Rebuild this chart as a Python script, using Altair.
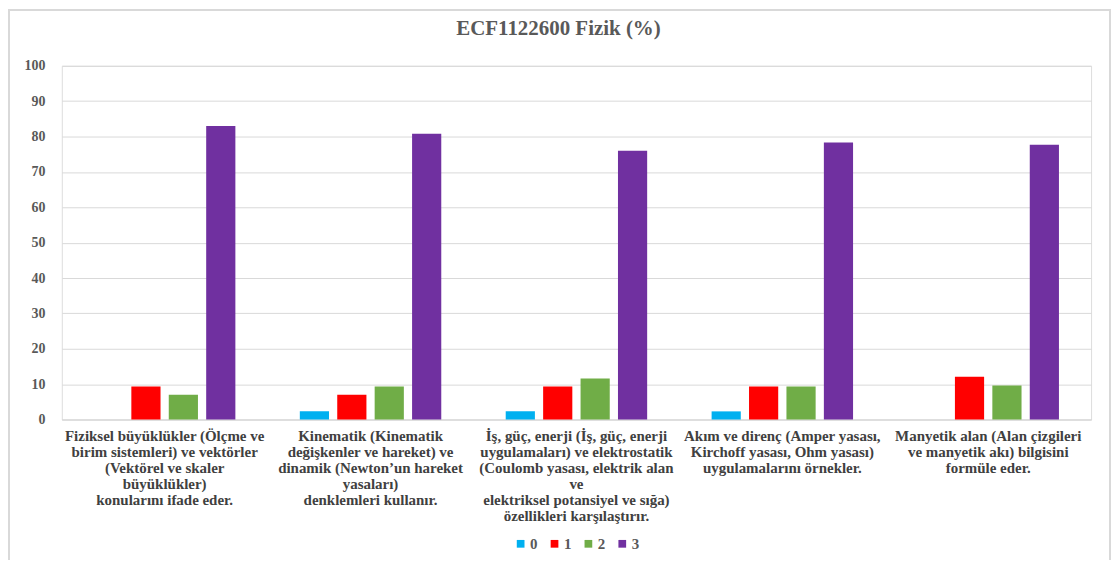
import altair as alt
import pandas as pd

categories = [
    "Fiziksel büyüklükler (Ölçme ve|birim sistemleri) ve vektörler|(Vektörel ve skaler|büyüklükler)|konularını ifade eder.",
    "Kinematik (Kinematik|değişkenler ve hareket) ve|dinamik (Newton’un hareket|yasaları)|denklemleri kullanır.",
    "İş, güç, enerji (İş, güç, enerji|uygulamaları) ve elektrostatik|(Coulomb yasası, elektrik alan|ve|elektriksel potansiyel ve sığa)|özellikleri karşılaştırır.",
    "Akım ve direnç (Amper yasası,|Kirchoff yasası, Ohm yasası)|uygulamalarını örnekler.",
    "Manyetik alan (Alan çizgileri|ve manyetik akı) bilgisini|formüle eder.",
]
series = ["0", "1", "2", "3"]
s0 = [0, 2.3, 2.3, 2.3, 0]
s1 = [9.3, 7.0, 9.3, 9.3, 12.1]
s2 = [7.0, 9.3, 11.6, 9.3, 9.6]
s3 = [83.0, 80.8, 76.0, 78.3, 77.7]
colors = ["#00B0F0", "#FF0000", "#70AD47", "#7030A0"]

rows = []
for i, c in enumerate(categories):
    for s, vals in zip(series, [s0, s1, s2, s3]):
        rows.append({"cat": c, "series": s, "value": vals[i]})
df = pd.DataFrame(rows)

FONT = "Liberation Serif"
GRAY = "#595959"

bars = alt.Chart(df).mark_bar().encode(
    x=alt.X("cat:N", sort=categories, title=None,
            scale=alt.Scale(paddingInner=0.313, paddingOuter=0.156),
            axis=alt.Axis(labelAngle=0, labelExpr="split(datum.value, '|')",
                          labelFont=FONT, labelFontSize=15, labelFontWeight="bold",
                          labelColor="#404040", labelLineHeight=16, labelPadding=9,
                          ticks=False, domain=True, domainColor="#D9D9D9",
                          labelLimit=250, labelBaseline="top")),
    xOffset=alt.XOffset("series:N", sort=series,
                        scale=alt.Scale(paddingInner=0.22, paddingOuter=0)),
    y=alt.Y("value:Q", title=None,
            scale=alt.Scale(domain=[0, 100]),
            axis=alt.Axis(values=list(range(0, 101, 10)), labelFont=FONT,
                          labelFontSize=14, labelFontWeight="bold", labelColor=GRAY,
                          ticks=False, domain=False, gridColor="#D9D9D9",
                          labelPadding=17)),
    color=alt.Color("series:N", sort=series,
                    scale=alt.Scale(domain=series, range=colors),
                    legend=alt.Legend(title=None, orient="none", direction="horizontal",
                                      legendX=453, legendY=472,
                                      symbolType="square", symbolSize=60,
                                      symbolStrokeWidth=0,
                                      labelFont=FONT, labelFontSize=15,
                                      labelFontWeight="bold", labelColor=GRAY,
                                      columnPadding=9, labelOffset=2)),
)

border = alt.Chart(pd.DataFrame({"k": [0]})).mark_rect(
    fill=None, stroke="#D9D9D9", strokeWidth=2
).encode(
    x=alt.value(-53), x2=alt.value(1052), y=alt.value(-56), y2=alt.value(510)
)

chart = alt.layer(border, bars).properties(
    width=1033, height=355,
    title=alt.TitleParams("ECF1122600 Fizik (%)", font=FONT, fontSize=21,
                          fontWeight="bold", color=GRAY, anchor="middle",
                          dx=-18, offset=0, dy=30),
    autosize="none",
    padding={"left": 54, "top": 57, "right": 20, "bottom": 140},
).configure_view(stroke=None).configure(font=FONT)

chart.save("out.html", embed_options={"renderer": "svg", "actions": False})
